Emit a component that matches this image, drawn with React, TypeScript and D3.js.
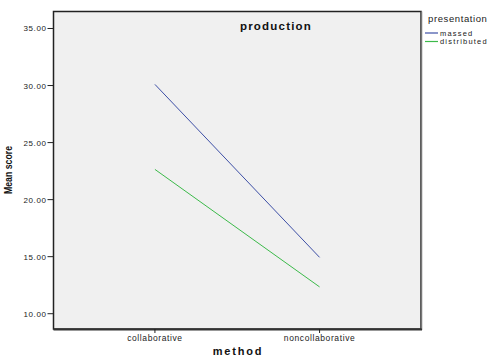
import React from "react";
import * as d3 from "d3";

const categories = ["collaborative", "noncollaborative"];
const seriesNames = ["massed", "distributed"];
const massed = [30.1, 14.94];
const distributed = [22.65, 12.35];
const yTicks = [10, 15, 20, 25, 30, 35];
const colors = ["#3d4fa6", "#3cba4a"];

export default function App() {
  const W = 498, H = 356;
  const left = 53.5, right = 421, top = 11.5, bottom = 329;
  const y = d3.scaleLinear().domain([8.66, 36.49]).range([bottom, top]);
  const x = d3.scalePoint<string>().domain(categories).range([left, right]).padding(0.616);
  const line = d3.line<[number, number]>().x(d => d[0]).y(d => d[1]);
  const series = [massed, distributed];
  const font = "'Liberation Sans', Arial, sans-serif";
  return (
    <svg width={W} height={H} style={{ position: "absolute", left: 0, top: 0, background: "#fff" }}>
      <rect x={left} y={top} width={right - left} height={bottom - top} fill="#f0f0f0" stroke="#222" strokeWidth={1.5} />
      <line x1={right + 0.5} x2={right + 0.5} y1={top} y2={bottom + 1} stroke="#777" strokeWidth={1.5} />
      <line x1={left} x2={right + 1} y1={bottom + 0.5} y2={bottom + 0.5} stroke="#333" strokeWidth={2} />
      {yTicks.map(t => (
        <g key={t}>
          <line x1={left - 6} x2={left} y1={y(t)} y2={y(t)} stroke="#222" strokeWidth={1} />
          <text x={left - 7} y={y(t) + 3} fontSize={8} letterSpacing={0.6} fontFamily={font} textAnchor="end" fill="#222">{t.toFixed(2)}</text>
        </g>
      ))}
      {categories.map(c => (
        <g key={c}>
          <line x1={x(c)!} x2={x(c)!} y1={bottom} y2={bottom + 4} stroke="#222" strokeWidth={1} />
          <text x={x(c)!} y={bottom + 12} fontSize={8.5} letterSpacing={0.6} fontFamily={font} textAnchor="middle" fill="#222">{c}</text>
        </g>
      ))}
      {series.map((s, i) => (
        <path key={i} d={line(categories.map((c, j) => [x(c)!, y(s[j])]))!} fill="none" stroke={colors[i]} strokeWidth={1} />
      ))}
      <text x={276} y={30} fontSize={11.5} fontWeight="bold" letterSpacing={1.2} fontFamily={font} textAnchor="middle" fill="#111">production</text>
      <text x={238} y={355} fontSize={11} fontWeight="bold" fontFamily={font} textAnchor="middle" letterSpacing={1.8} fill="#111">method</text>
      <text transform={`translate(12,170) rotate(-90)`} fontSize={11} fontWeight="bold" fontFamily={font} textAnchor="middle" textLength={48} lengthAdjust="spacingAndGlyphs" fill="#111">Mean score</text>
      <text x={428} y={22} fontSize={9.5} letterSpacing={0.6} fontFamily={font} fill="#222">presentation</text>
      {seriesNames.map((n, i) => (
        <g key={n}>
          <line x1={425} x2={438} y1={33 + i * 8.5} y2={33 + i * 8.5} stroke={colors[i]} strokeWidth={1.2} />
          <text x={440} y={35.5 + i * 8.5} fontSize={7.5} letterSpacing={1.2} fontFamily={font} fill="#222">{n}</text>
        </g>
      ))}
    </svg>
  );
}
